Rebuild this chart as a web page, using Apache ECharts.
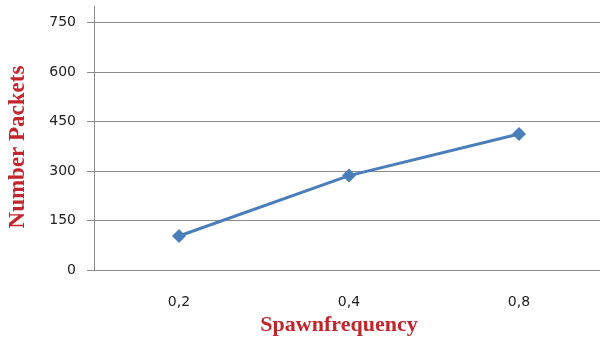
<!DOCTYPE html>
<html>
<head>
<meta charset="utf-8">
<script src="https://cdn.jsdelivr.net/npm/echarts@6/dist/echarts.min.js"></script>
<style>
html,body{margin:0;padding:0;background:#fff;}
#chart{width:600px;height:340px;}
</style>
</head>
<body>
<div id="chart"></div>
<script>
const categories = ['0,2', '0,4', '0,8'];
const packets = [103, 286, 412];
const yTicks = [0, 150, 300, 450, 600, 750];

const chart = echarts.init(document.getElementById('chart'), null, {renderer: 'canvas'});
const gray = '#8a8a8a';
chart.setOption({
  animation: false,
  backgroundColor: '#ffffff',
  grid: {left: 94, top: 6, width: 510, bottom: 70, containLabel: false, outerBoundsMode: 'none'},
  xAxis: {
    type: 'category',
    data: categories,
    boundaryGap: true,
    axisLine: {show: true, lineStyle: {color: gray, width: 1}},
    axisTick: {show: false},
    axisLabel: {margin: 25, fontFamily: 'DejaVu Sans', fontSize: 14, color: '#222'},
    name: 'Spawnfrequency',
    nameLocation: 'middle',
    nameGap: 44,
    nameTextStyle: {fontFamily: 'Liberation Serif', fontWeight: 'bold', fontSize: 22, color: '#C0262C', padding: [0, 20, 0, 0]}
  },
  yAxis: [{
    type: 'value',
    min: 0,
    max: 800,
    interval: 150,
    axisLine: {show: true, lineStyle: {color: gray, width: 1}},
    axisTick: {show: false},
    axisLabel: {margin: 18, fontFamily: 'DejaVu Sans', fontSize: 14, color: '#222', customValues: yTicks},
    splitLine: {show: true, showMaxLine: false, lineStyle: {color: gray, width: 1}},
    name: 'Number Packets',
    nameLocation: 'middle',
    nameGap: 64,
    nameRotate: 90,
    nameTextStyle: {fontFamily: 'Liberation Serif', fontWeight: 'bold', fontSize: 23, color: '#C0262C', padding: [0, 18, 0, 0]}
  }, {
    type: 'value',
    position: 'left',
    offset: 0,
    min: 0,
    max: 800,
    interval: 150,
    axisLine: {show: false},
    axisTick: {show: true, inside: false, length: 7, lineStyle: {color: gray, width: 1}, customValues: yTicks},
    axisLabel: {show: false},
    splitLine: {show: false}
  }],
  series: [{
    type: 'line',
    yAxisIndex: 0,
    data: packets,
    symbol: 'diamond',
    symbolSize: 14,
    lineStyle: {color: '#4A7EBB', width: 3},
    itemStyle: {color: '#4A7EBB'}
  }]
});
</script>
</body>
</html>
